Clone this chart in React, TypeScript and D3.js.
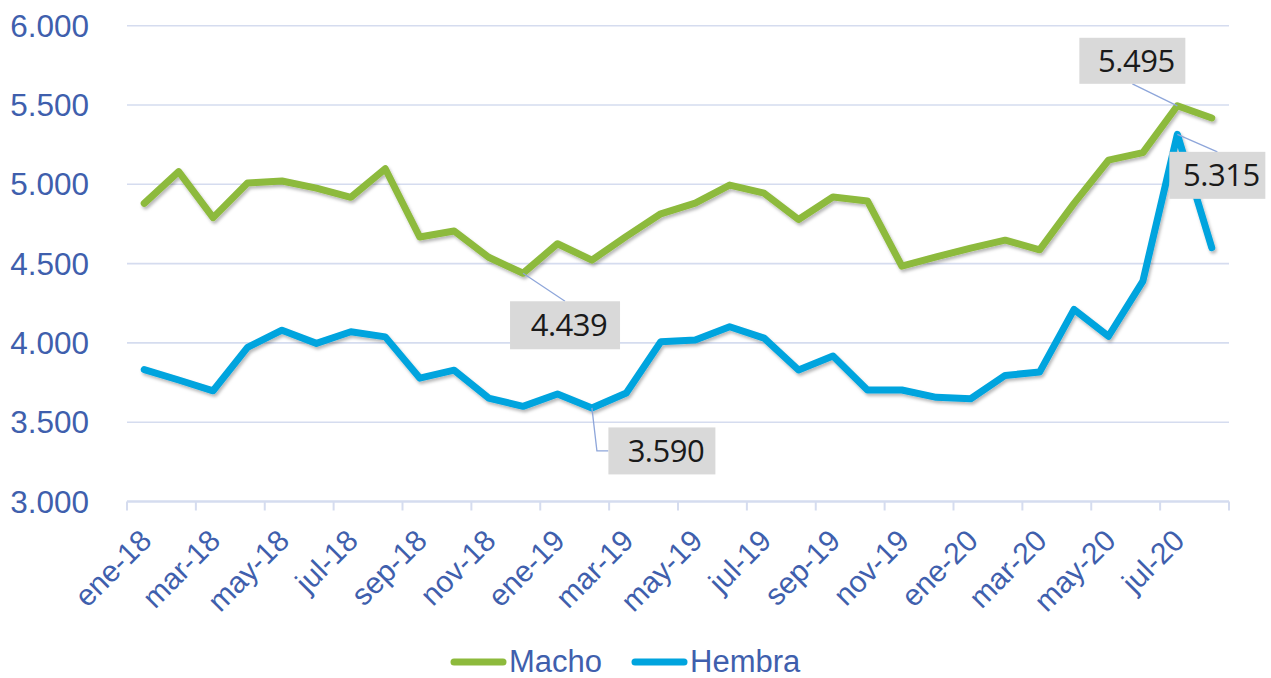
import * as React from "react";
import { scaleBand, scaleLinear, line, formatLocale } from "d3";

const months = [
  "ene-18", "feb-18", "mar-18", "abr-18", "may-18", "jun-18", "jul-18", "ago-18",
  "sep-18", "oct-18", "nov-18", "dic-18", "ene-19", "feb-19", "mar-19", "abr-19",
  "may-19", "jun-19", "jul-19", "ago-19", "sep-19", "oct-19", "nov-19", "dic-19",
  "ene-20", "feb-20", "mar-20", "abr-20", "may-20", "jun-20", "jul-20", "ago-20",
];

const macho = [
  4880, 5080, 4790, 5008, 5021, 4976, 4918, 5098,
  4668, 4706, 4540, 4439, 4625, 4522, 4672, 4814,
  4881, 4995, 4944, 4778, 4920, 4895, 4484, 4542,
  4598, 4648, 4587, 4880, 5152, 5200, 5495, 5418,
];

const hembra = [
  3832, 3766, 3698, 3972, 4080, 3997, 4070, 4038,
  3778, 3828, 3652, 3600, 3678, 3590, 3684, 4007,
  4018, 4102, 4030, 3829, 3917, 3703, 3703, 3657,
  3648, 3795, 3816, 4211, 4042, 4390, 5315, 4600,
];

const yTicks = [3000, 3500, 4000, 4500, 5000, 5500, 6000];

const seriesNames = ["Macho", "Hembra"];
const seriesColors = ["#8DBA3C", "#00A4DE"];

// data labels: series index, month index, box offset from point
const callouts = [
  { s: 0, i: 30, dx: -45, dy: -45, w: 106, h: 46, elbow: false },
  { s: 1, i: 30, dx: 40, dy: 41, w: 96, h: 47, elbow: false },
  { s: 0, i: 11, dx: 42, dy: 52, w: 110, h: 48, elbow: false },
  { s: 1, i: 13, dx: 70, dy: 43, w: 107, h: 47, elbow: true },
];

const es = formatLocale({ decimal: ",", thousands: ".", grouping: [3], currency: ["", "€"] });
const fmt = es.format(",d");

const W = 1271;
const H = 678;
const left = 127;
const right = 1229;
const top = 25.7;
const bottom = 501.5;

const axisColor = "#D5DCEF";
const textBlue = "#3F5FAD";
const font = "'Liberation Sans', Arial, sans-serif";

export default function App() {
  const x = scaleBand<string>().domain(months).range([left, right]).padding(0);
  const y = scaleLinear().domain([3000, 6000]).range([bottom, top]);
  const cx = (i: number) => (x(months[i]) as number) + x.bandwidth() / 2;

  const series = [macho, hembra];
  const lineGen = line<number>()
    .x((_, i) => cx(i))
    .y((d) => y(d));

  const tickXs = months
    .map((m, i) => (i % 2 === 0 ? (x(m) as number) : null))
    .filter((v) => v !== null) as number[];
  tickXs.push(right);

  return (
    <svg width={W} height={H} style={{ position: "absolute", left: 0, top: 0, background: "#fff" }}>
      <defs>
        <filter id="sh" x="-5%" y="-5%" width="110%" height="120%">
          <feDropShadow dx="1.5" dy="2.5" stdDeviation="1.5" floodColor="#000" floodOpacity="0.28" />
        </filter>
      </defs>

      {/* gridlines */}
      {yTicks.map((t) => (
        <line key={t} x1={left} x2={right} y1={y(t)} y2={y(t)} stroke={axisColor} strokeWidth={t === 3000 ? 2.5 : 1.6} />
      ))}
      {tickXs.map((tx, k) => (
        <line key={k} x1={tx} x2={tx} y1={bottom} y2={bottom + 9} stroke={axisColor} strokeWidth={2} />
      ))}

      {/* y labels */}
      {yTicks.map((t) => (
        <text key={t} x={89} y={y(t) + 11} textAnchor="end" fontFamily={font} fontSize={31.5} fill={textBlue}>
          {fmt(t)}
        </text>
      ))}

      {/* x labels */}
      {months.map((m, i) =>
        i % 2 === 0 ? (
          <text
            key={m}
            transform={`translate(${cx(i) + 9},${bottom + 41}) rotate(-45)`}
            textAnchor="end"
            fontFamily={font}
            fontSize={30}
            fill={textBlue}
          >
            {m}
          </text>
        ) : null
      )}

      {/* lines */}
      {series.map((d, s) => (
        <path
          key={s}
          d={lineGen(d) as string}
          fill="none"
          stroke={seriesColors[s]}
          strokeWidth={7}
          strokeLinejoin="round"
          strokeLinecap="round"
          filter="url(#sh)"
        />
      ))}

      {/* callouts */}
      {callouts.map((c, k) => {
        const px = cx(c.i);
        const py = y(series[c.s][c.i]);
        const bx = px + c.dx;
        const by = py + c.dy;
        const pts = c.elbow
          ? `${px},${py} ${px + 5},${by} ${bx - c.w / 2},${by}`
          : `${px},${py} ${bx},${c.dy < 0 ? by + c.h / 2 : by - c.h / 2}`;
        return (
          <g key={k}>
            <polyline points={pts} fill="none" stroke="#8EA6DA" strokeWidth={1.3} />
            <rect x={bx - c.w / 2} y={by - c.h / 2} width={c.w} height={c.h} fill="#D9D9D9" />
            <text
              x={bx + 4}
              y={by + 11}
              textAnchor="middle"
              fontFamily="'Open Sans', 'Noto Sans', sans-serif"
              fontSize={31}
              fill="#1A1A1A"
              letterSpacing={-0.5}
            >
              {fmt(series[c.s][c.i])}
            </text>
          </g>
        );
      })}

      {/* legend */}
      {seriesNames.map((n, s) => {
        const lx = s === 0 ? 451 : 632;
        return (
          <g key={n}>
            <line x1={lx + 3} x2={lx + 52} y1={662} y2={662} stroke={seriesColors[s]} strokeWidth={7} strokeLinecap="round" />
            <text x={lx + 58} y={672} fontFamily={font} fontSize={31} fill={textBlue}>
              {n}
            </text>
          </g>
        );
      })}
    </svg>
  );
}
